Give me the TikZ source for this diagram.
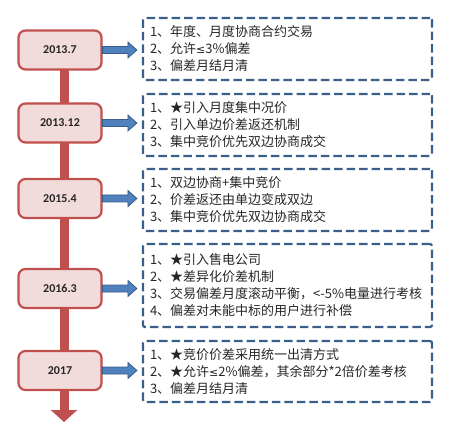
\documentclass[tikz,border=0pt]{standalone}
\usepackage{fontspec}
\setmainfont{Noto Sans CJK SC}
\newfontfamily\latfont[Scale=0.85]{DejaVu Sans}
\newfontfamily\datefont{Carlito}
\usetikzlibrary{arrows.meta,calc,backgrounds}
\definecolor{barred}{HTML}{C0504D}
\definecolor{pinkfill}{HTML}{F2DCDB}
\definecolor{dashblue}{HTML}{3A5F8A}
\definecolor{arrowfill}{HTML}{4F81BD}
\definecolor{arrowline}{HTML}{385D8A}
\definecolor{txt}{HTML}{262626}
\tikzset{
  datebox/.style={draw=barred, fill=pinkfill, line width=2.2pt, rounded corners=7pt,
    minimum width=83pt, minimum height=39pt, inner sep=0pt,
    font=\datefont\bfseries\fontsize{12}{14}\selectfont, text=txt},
  infobox/.style={draw=dashblue, line width=2.2pt, dash pattern=on 8.5pt off 4pt,
    rounded corners=2pt, minimum width=289pt, text width=275pt, inner xsep=7pt,
    inner ysep=0pt, align=left, font=\fontsize{13}{17}\selectfont, text=txt},
  timebar/.style={draw=barred, line width=9pt, -{Triangle[width=26pt,length=12pt]}},
  blockarrow/.style={draw=arrowline, fill=arrowfill, line width=0.8pt, line join=miter,
    to path={let \p1=(\tikztostart), \p2=(\tikztotarget) in
      (\x1,\y1+3.5pt) -- (\x2-9pt,\y1+3.5pt) -- (\x2-9pt,\y1+8pt) -- (\x2,\y1)
      -- (\x2-9pt,\y1-8pt) -- (\x2-9pt,\y1-3.5pt) -- (\x1,\y1-3.5pt) -- cycle}},
}
\begin{document}
\begin{tikzpicture}[x=1pt,y=-1pt]
\useasboundingbox (0,0) rectangle (457,427);

\node[datebox] (d1) at (60,50) {2013.7};
\node[datebox] (d2) at (60,123) {2013.12};
\node[datebox] (d3) at (60,198.5) {2015.4};
\node[datebox] (d4) at (60,288.5) {2016.3};
\node[datebox] (d5) at (60,370.5) {2017};

\node[infobox, minimum height=62pt] (b1) at (287.5,49)
  {1、年度、月度协商合约交易\\2、允许{\latfont ≤}3\%偏差\\3、偏差月结月清};
\node[infobox, minimum height=62pt] (b2) at (287.5,125)
  {1、★引入月度集中况价\\2、引入单边价差返还机制\\3、集中竞价优先双边协商成交};
\node[infobox, minimum height=62pt] (b3) at (287.5,200)
  {1、双边协商+集中竞价\\2、价差返还由单边变成双边\\3、集中竞价优先双边协商成交};
\node[infobox, minimum height=83pt] (b4) at (287.5,285.5)
  {1、★引入售电公司\\2、★差异化价差机制\\3、交易偏差月度滚动平衡，<-5\%电量进行考核\\4、偏差对未能中标的用户进行补偿};
\node[infobox, minimum height=61pt] (b5) at (287.5,371.5)
  {1、★竞价价差采用统一出清方式\\2、★允许{\latfont ≤}2\%偏差，其余部分*2倍价差考核\\3、偏差月结月清};

\coordinate (bartop) at (64,50);
\coordinate (barend) at (64,422);
\begin{scope}[on background layer]
  \draw[timebar] (bartop) -- (barend);
\end{scope}

\foreach \i in {1,...,5}
  \draw[blockarrow] (d\i.east) to ([xshift=-5pt]d\i.east -| b\i.west);
\end{tikzpicture}
\end{document}
